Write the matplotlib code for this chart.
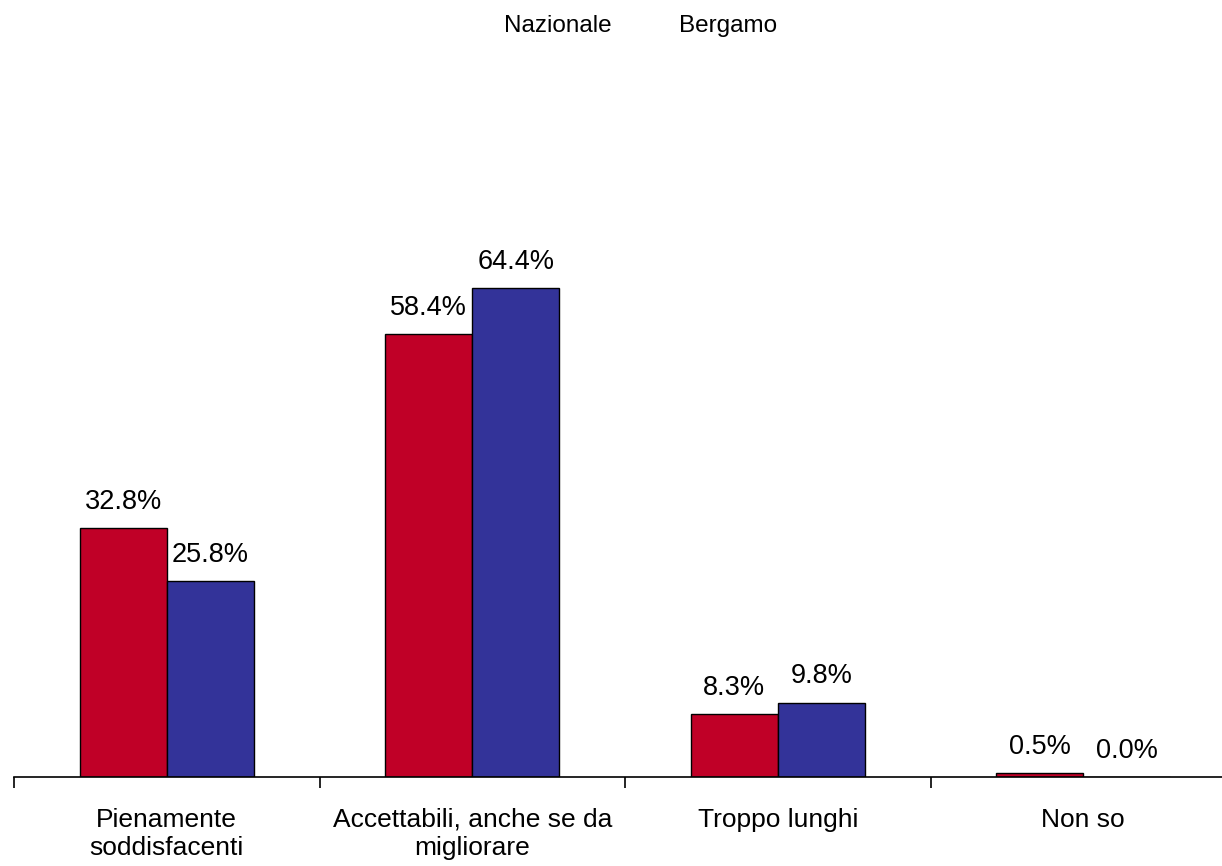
import numpy as np
import matplotlib.pyplot as plt

plt.rcParams['font.family'] = ['Liberation Sans', 'DejaVu Sans']

# data
categories = ['Pienamente\nsoddisfacenti', 'Accettabili, anche se da\nmigliorare',
              'Troppo lunghi', 'Non so']
series_names = ['Nazionale', 'Bergamo']
nazionale = [32.8, 58.4, 8.3, 0.5]
bergamo = [25.8, 64.4, 9.8, 0.0]
colors = ['#C00027', '#333399']

fig = plt.figure(figsize=(12.22, 8.66), dpi=100)
ax = fig.add_axes([14 / 1222, 89 / 866, 1.0, 607 / 866])

x = np.arange(len(categories))
w = 0.285
for i, (vals, col) in enumerate(zip([nazionale, bergamo], colors)):
    pos = x + (i - 0.5) * w
    ax.bar(pos, vals, width=w, color=col, edgecolor='black', linewidth=1, zorder=2)
    for px, v in zip(pos, vals):
        ax.annotate('%.1f%%' % v, (px, v), xytext=(0, 19), textcoords='offset points',
                    ha='center', va='center', fontsize=19.5)

ax.set_xlim(-0.5, len(categories) - 0.5)
ax.set_ylim(0, 80)
ax.set_yticks([])
for s in ['left', 'right', 'top']:
    ax.spines[s].set_visible(False)
ax.spines['bottom'].set_linewidth(1.2)

ax.set_xticks(x)
ax.set_xticklabels(categories, fontsize=19, linespacing=1.22)
ax.tick_params(axis='x', which='major', length=0, pad=22)
ax.set_xticks(np.arange(len(categories) + 1) - 0.5, minor=True)
ax.tick_params(axis='x', which='minor', length=8, width=1.2, direction='out')

# legend (text only)
fig.text(558 / 1222, 1 - 26 / 866, series_names[0], ha='center', va='center', fontsize=17.5)
fig.text(728 / 1222, 1 - 26 / 866, series_names[1], ha='center', va='center', fontsize=17.5)

fig.savefig('out.png', dpi=100)
